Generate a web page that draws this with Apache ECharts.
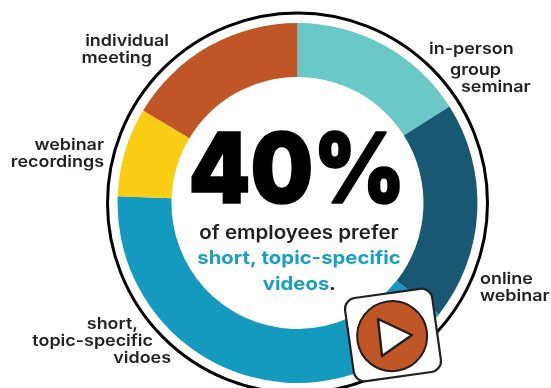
<!DOCTYPE html>
<html>
<head>
<meta charset="utf-8">
<style>html,body{margin:0;padding:0;background:#fff}#c{width:551px;height:388px}</style>
<script src="https://cdn.jsdelivr.net/npm/echarts@6/dist/echarts.min.js"></script>
</head>
<body>
<div id="c"></div>
<script>
// Preferred training formats, share of employees (%)
const categories = ['in-person group seminar', 'online webinar', 'short, topic-specific videos', 'webinar recordings', 'individual meeting'];
const shares = [16, 19.6, 40, 8, 16.4];
const sliceColors = ['#6AC9C6', '#195873', '#149ABF', '#FACD15', '#C05526'];

// Outside captions, one entry per line: text, anchor x, vertical centre y, alignment
const captionLines = [
  ['individual', 169, 41, 'right'], ['meeting', 152, 58, 'right'],
  ['in-person', 429, 49, 'left'], ['group', 450, 70, 'left'], ['seminar', 461, 87, 'left'],
  ['webinar', 104, 145, 'right'], ['recordings', 104, 162, 'right'],
  ['online', 480, 279, 'left'], ['webinar', 480, 296, 'left'],
  ['short,', 138, 324, 'right'], ['topic-specific', 153, 341, 'right'], ['vidoes', 171, 358, 'right']
];
const headline = '40%';
const subline = 'of employees prefer';
const highlightLines = ['short, topic-specific', 'videos'];

const FONT = 'Inter, "Open Sans", sans-serif';
const INK = '#231F20';
const BLUE_TEXT = '#1A9FC4';
const cx = 297.5, cy = 203;

// Text stretched horizontally around its anchor point
const label = (text, x, y, align, fill, font, scaleX, extra) => ({
  type: 'text', z: 5, x, y, scaleX,
  style: Object.assign({ text, x: 0, y: 0, align, verticalAlign: 'middle', fill, font }, extra)
});

const chart = echarts.init(document.getElementById('c'), null, { renderer: 'canvas' });
chart.setOption({
  animation: false,
  backgroundColor: '#fff',
  series: [{
    type: 'pie',
    silent: true,
    center: [cx, cy],
    radius: [126, 180],
    startAngle: 90,
    clockwise: true,
    label: { show: false },
    labelLine: { show: false },
    itemStyle: { borderWidth: 0 },
    data: categories.map((name, i) => ({ name, value: shares[i], itemStyle: { color: sliceColors[i] } }))
  }],
  graphic: [
    // Thin outline around the donut
    { type: 'circle', z: 1, shape: { cx, cy, r: 190 }, style: { fill: 'none', stroke: '#000', lineWidth: 3 } },
    ...captionLines.map(([text, x, y, align]) => label(text, x, y, align, INK, '600 16px ' + FONT, 1.12)),
    // Centre message
    label(headline, 297, 174, 'center', '#000', '900 97px ' + FONT, 0.91, { stroke: '#000', lineWidth: 1.5 }),
    label(subline, 299, 233, 'center', INK, '600 18.5px ' + FONT, 1.11),
    label(highlightLines[0], 299, 258, 'center', BLUE_TEXT, '700 18.5px ' + FONT, 1.1),
    label(highlightLines[1], 296, 284, 'center', BLUE_TEXT, '700 18.5px ' + FONT, 1.1),
    label('.', 329, 284, 'left', INK, '700 18.5px ' + FONT, 1.1),
    // Play button
    {
      type: 'group', z: 6, x: 393, y: 335, rotation: 0.14,
      children: [
        { type: 'rect', z: 6, shape: { x: -44, y: -42, width: 88, height: 84, r: 11 }, style: { fill: '#fff', stroke: INK, lineWidth: 2.2 } },
        { type: 'circle', z: 7, shape: { cx: -1, cy: 1, r: 35 }, style: { fill: '#C05526', stroke: INK, lineWidth: 2 } }
      ]
    },
    {
      type: 'polygon', z: 8,
      shape: { points: [[378, 319], [412, 335], [382, 356]] },
      style: { fill: '#fff', stroke: INK, lineWidth: 2.4, lineJoin: 'round' }
    }
  ]
});
</script>
</body>
</html>
